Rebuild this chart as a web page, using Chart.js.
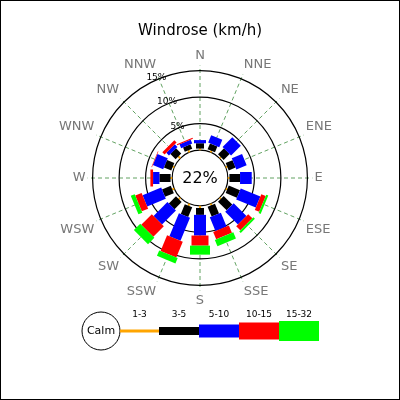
<!DOCTYPE html>
<html><head><meta charset="utf-8">
<script src="https://cdn.jsdelivr.net/npm/chart.js@4"></script>
<style>body{margin:0}#w{position:relative;width:398px;height:398px;border:1px solid #000;background:#fff}</style>
</head><body><div id="w"><canvas id="c" width="398" height="398"></canvas></div>
<script>
const directions=['N','NNE','NE','ENE','E','ESE','SE','SSE','S','SSW','SW','WSW','W','WNW','NW','NNW'];
const speedClasses=['1-3','3-5','5-10','10-15','15-32'];
const classColors=['#ffa500','#000000','#0000ff','#ff0000','#00ff00'];
const s1_3 =[0.3,0.3,0.3,0.3,0.3,0.3,0.3,0.3,0.4,0.4,0.4,0.4,0.3,0.3,0.5,0.4];
const s3_5 =[1.0,1.2,1.6,1.4,2.0,2.3,2.3,2.0,1.3,2.0,1.9,1.8,2.1,1.5,1.4,0.9];
const s5_10=[0.6,1.5,2.6,2.1,2.2,4.0,3.4,2.8,3.9,4.7,3.7,3.8,1.2,2.1,0.7,0.8];
const s10_15=[0,0,0,0,0,0.9,1.1,1.5,1.9,3.2,2.8,1.3,0.5,0.1,0.6,0.2];
const s15_32=[0,0,0,0,0,0.4,0.4,1.3,1.7,1.1,1.7,0.8,0,0,0,0];
const calmText='22%';
const ringTicks=[5,10,15];
const series=[s1_3,s3_5,s5_10,s10_15,s15_32];
const widths=[2,8,12,17,20];

const rosePlugin={id:'rose',
 beforeDatasetsDraw(chart){
  const ctx=chart.ctx, sc=chart.scales.r;
  ctx.save();ctx.lineWidth=1.2;ctx.strokeStyle='#000';
  ringTicks.forEach(t=>{ctx.beginPath();ctx.arc(sc.xCenter,sc.yCenter,sc.getDistanceFromCenterForValue(t),0,Math.PI*2);ctx.stroke();});
  ctx.restore();
 },
 afterDatasetsDraw(chart){
  const ctx=chart.ctx, sc=chart.scales.r;
  const cx=sc.xCenter, cy=sc.yCenter;
  const r0=sc.getDistanceFromCenterForValue(0);
  ctx.save();
  ctx.beginPath();ctx.arc(cx,cy,r0,0,Math.PI*2);ctx.fillStyle='#fff';ctx.fill();
  ctx.lineWidth=1.2;ctx.strokeStyle='#000';ctx.stroke();
  directions.forEach((d,i)=>{
    const a=sc.getIndexAngle(i)-Math.PI/2;
    let cum=0;
    series.forEach((s,k)=>{
      const v=s[i]; if(!v) return;
      const ra=sc.getDistanceFromCenterForValue(cum), rb=sc.getDistanceFromCenterForValue(cum+v);
      cum+=v;
      ctx.save();ctx.translate(cx,cy);ctx.rotate(a);
      ctx.fillStyle=classColors[k];
      ctx.fillRect(ra,-widths[k]/2,rb-ra,widths[k]);
      ctx.restore();
    });
  });
  ctx.fillStyle='#000';ctx.font='16px "DejaVu Sans"';ctx.textAlign='center';ctx.textBaseline='middle';
  ctx.fillText(calmText,cx,cy+1);
  ctx.font='9px "DejaVu Sans"';
  const ta=-Math.PI/2-0.41;
  ringTicks.forEach(t=>{const r=sc.getDistanceFromCenterForValue(t)+2;
    ctx.fillText(t+'%',cx+r*Math.cos(ta),cy+r*Math.sin(ta));});
  const ly=330;
  ctx.beginPath();ctx.arc(100,ly,19,0,Math.PI*2);ctx.fillStyle='#fff';ctx.fill();ctx.lineWidth=1;ctx.strokeStyle='#000';ctx.stroke();
  ctx.fillStyle='#000';ctx.font='11px "DejaVu Sans"';ctx.fillText('Calm',100,ly);
  const lh=[3,8,13,17,20];
  let x=119;
  speedClasses.forEach((c,k)=>{
    const w=k===0?39:40;
    ctx.fillStyle=classColors[k];ctx.fillRect(x,ly-lh[k]/2,w,lh[k]);
    ctx.fillStyle='#000';ctx.font='9px "DejaVu Sans"';ctx.fillText(c,x+w/2,314);
    x+=w;
  });
  ctx.restore();
 }};

new Chart(document.getElementById('c'),{
 type:'radar',
 data:{labels:directions,datasets:[{data:directions.map(()=>null),pointRadius:0,borderWidth:0}]},
 options:{responsive:false,animation:false,
  layout:{padding:{top:13,bottom:90,left:0,right:0}},
  plugins:{legend:{display:false},tooltip:{enabled:false},
   title:{display:true,text:'Windrose (km/h)',color:'#000',font:{family:'DejaVu Sans',size:15,weight:'normal'},padding:{top:8,bottom:8}}},
  scales:{r:{min:-5.25,max:15.94,
   ticks:{display:false},
   grid:{display:false},
   angleLines:{color:'#3a8a3a',borderDash:[4,3],lineWidth:0.8},
   pointLabels:{color:'#777',font:{family:'DejaVu Sans',size:13},padding:2}}}},
 plugins:[rosePlugin]});
</script></body></html>
